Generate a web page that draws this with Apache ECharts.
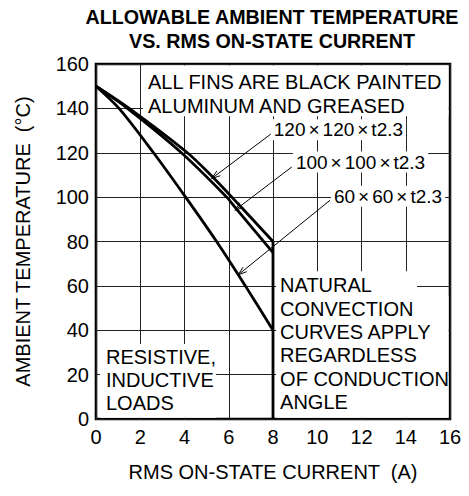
<!DOCTYPE html>
<html>
<head>
<meta charset="utf-8">
<script src="https://cdn.jsdelivr.net/npm/echarts@6/dist/echarts.min.js"></script>
<style>
  html, body { margin: 0; padding: 0; background: #fff; }
  #chart { width: 469px; height: 496px; }
</style>
</head>
<body>
<div id="chart"></div>
<script>
// Allowable ambient temperature vs. RMS on-state current, natural convection
const FONT = '"Liberation Sans", Arial, Helvetica, sans-serif';

// axis ranges
const xTickLabels = ['0', '2', '4', '6', '8', '10', '12', '14', '16'];
const yTickLabels = ['0', '20', '40', '60', '80', '100', '120', '140', '160'];

// derating curves: [current (A), ambient temperature (°C)]
const fin120 = [[0, 150], [1.5, 140], [4.13, 120], [5.23, 109.5], [6.14, 100], [8, 80]];
const fin100 = [[0, 150], [1.42, 140], [3.86, 120], [5.91, 100], [6.28, 95.5], [8, 75]];
const fin60  = [[0, 150], [1.04, 140], [2.6, 120], [4.05, 100], [5.45, 80], [6.75, 60], [8, 40]];
// maximum current limit
const currentLimit = [[8, 0], [8, 80]];

// fin size labels and their leader arrows (label end -> curve end)
const finLabels   = ['120×120×t2.3', '100×100×t2.3', '60×60×t2.3'];
const finLabelPos = [[7.9, 130.4], [8.9, 115.8], [10.62, 100.4]];
const leaderFrom  = [[7.94, 128.7], [8.85, 113.6], [10.58, 98.6]];
const leaderTo    = [[5.23, 108.4], [6.28, 94.1], [6.43, 65.0]];

// notes inside the plot
const noteFins = ['ALL FINS ARE BLACK PAINTED', 'ALUMINUM AND GREASED'];
const noteConvection = ['NATURAL', 'CONVECTION', 'CURVES APPLY', 'REGARDLESS', 'OF CONDUCTION', 'ANGLE'];
const noteLoads = ['RESISTIVE,', 'INDUCTIVE', 'LOADS'];
const noteAnchors = [[2.35, 151.7], [8.32, 60.3], [0.45, 28.0]];

// white panels behind the notes: [x0, y0, x1, y1]
const notePanels = [
  [2.12, 136.4, 15.93, 159.3],
  [8.14, 55.4, 14.51, 66.6],
  [8.14, 0.6, 15.93, 55.4],
  [0.18, 0.6, 5.42, 33.8]
];

const chart = echarts.init(document.getElementById('chart'), null, { renderer: 'svg' });

function curve(name, data) {
  return {
    name: name,
    type: 'line',
    data: data,
    smooth: 0.3,
    symbol: 'none',
    z: 3,
    lineStyle: { color: '#000', width: 2.8 }
  };
}

const option = {
  backgroundColor: '#fff',
  animation: false,
  textStyle: { fontFamily: FONT },
  grid: {
    left: 96, right: 19, top: 64, bottom: 77,
    show: true, borderColor: '#000', borderWidth: 2.6, backgroundColor: 'transparent'
  },
  graphic: [
    {
      type: 'text', x: 272, y: 17,
      style: { text: 'ALLOWABLE AMBIENT TEMPERATURE', font: 'bold 19.7px ' + FONT, fill: '#000', align: 'center', verticalAlign: 'middle' }
    },
    {
      type: 'text', x: 272, y: 41,
      style: { text: 'VS. RMS ON-STATE CURRENT', font: 'bold 19.7px ' + FONT, fill: '#000', align: 'center', verticalAlign: 'middle' }
    }
  ],
  xAxis: {
    type: 'value', min: 0, max: 16, interval: 2,
    name: 'RMS ON-STATE CURRENT  (A)',
    nameLocation: 'middle', nameGap: 43,
    nameTextStyle: { fontSize: 20, color: '#000', fontFamily: FONT },
    axisLine: { show: false },
    axisTick: { show: false },
    axisLabel: {
      fontSize: 20, color: '#000', margin: 8, fontFamily: FONT,
      formatter: v => xTickLabels[Math.round(v / 2)]
    },
    splitLine: { show: true, lineStyle: { color: '#222', width: 1 } }
  },
  yAxis: {
    type: 'value', min: 0, max: 160, interval: 20,
    name: 'AMBIENT TEMPERATURE  (°C)',
    nameLocation: 'middle', nameGap: 63, nameRotate: 90,
    nameTextStyle: { fontSize: 20, color: '#000', fontFamily: FONT },
    axisLine: { show: false },
    axisTick: { show: false },
    axisLabel: {
      fontSize: 20, color: '#000', margin: 7, fontFamily: FONT,
      formatter: v => yTickLabels[Math.round(v / 20)]
    },
    splitLine: { show: true, lineStyle: { color: '#222', width: 1 } }
  },
  series: [
    // white panels under the notes, hiding the grid lines
    {
      type: 'custom',
      z: 2,
      silent: true,
      data: notePanels,
      renderItem: function (params, api) {
        const p0 = api.coord([api.value(0), api.value(3)]);
        const p1 = api.coord([api.value(2), api.value(1)]);
        return {
          type: 'rect',
          shape: { x: p0[0], y: p0[1], width: p1[0] - p0[0], height: p1[1] - p0[1] },
          style: { fill: '#fff' }
        };
      }
    },
    curve('120×120×t2.3', fin120),
    curve('100×100×t2.3', fin100),
    curve('60×60×t2.3', fin60),
    {
      type: 'line', data: currentLimit, symbol: 'none', z: 3,
      lineStyle: { color: '#000', width: 2.8 }
    },
    // leader arrows from the fin size labels to their curves
    {
      type: 'custom',
      z: 4,
      silent: true,
      data: leaderFrom.map((p, i) => [p[0], p[1], leaderTo[i][0], leaderTo[i][1]]),
      renderItem: function (params, api) {
        const a = api.coord([api.value(0), api.value(1)]);
        const b = api.coord([api.value(2), api.value(3)]);
        const ang = Math.atan2(a[1] - b[1], a[0] - b[0]);
        const len = 9, spread = 0.33;
        const h1 = [b[0] + len * Math.cos(ang + spread), b[1] + len * Math.sin(ang + spread)];
        const h2 = [b[0] + len * Math.cos(ang - spread), b[1] + len * Math.sin(ang - spread)];
        return {
          type: 'group',
          children: [
            { type: 'line', shape: { x1: a[0], y1: a[1], x2: b[0], y2: b[1] }, style: { stroke: '#000', lineWidth: 1 } },
            { type: 'polyline', shape: { points: [h1, b, h2] }, style: { stroke: '#000', lineWidth: 1, fill: null } }
          ]
        };
      }
    },
    // fin size labels
    {
      type: 'custom',
      z: 5,
      silent: true,
      data: finLabelPos.map((p, i) => [p[0], p[1], i]),
      renderItem: function (params, api) {
        const p = api.coord([api.value(0), api.value(1)]);
        const txt = finLabels[api.value(2)].split('×').join('{m|×}');
        return {
          type: 'text',
          x: p[0], y: p[1],
          style: {
            text: txt,
            fill: '#000',
            fontSize: 19, fontFamily: FONT,
            align: 'left', verticalAlign: 'middle',
            backgroundColor: '#fff',
            padding: [1, 3, 1, 3],
            rich: { m: { fontSize: 19, fontFamily: FONT, fill: '#000', padding: [0, 3, 0, 3] } }
          }
        };
      }
    },
    // notes
    {
      type: 'custom',
      z: 5,
      silent: true,
      data: noteAnchors.map((p, i) => [p[0], p[1], i]),
      renderItem: function (params, api) {
        const p = api.coord([api.value(0), api.value(1)]);
        const lines = [noteFins, noteConvection, noteLoads][api.value(2)];
        const step = api.value(2) === 1 ? 23.4 : 23.2;
        return {
          type: 'group',
          children: lines.map((t, k) => ({
            type: 'text',
            x: p[0], y: p[1] + k * step,
            style: {
              text: t, fill: '#000', fontSize: 20, fontFamily: FONT,
              align: 'left', verticalAlign: 'middle'
            }
          }))
        };
      }
    }
  ]
};

chart.setOption(option);
</script>
</body>
</html>
